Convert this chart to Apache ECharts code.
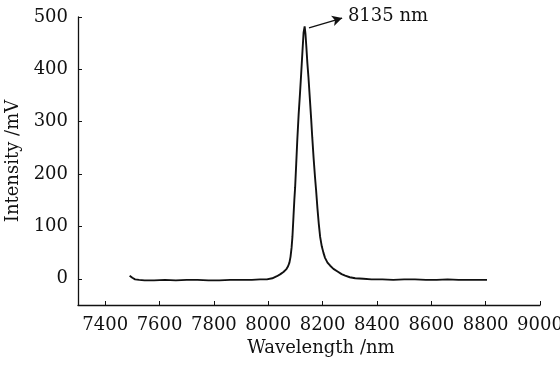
<!DOCTYPE html>
<html>
<head>
<meta charset="utf-8">
<script src="https://cdn.jsdelivr.net/npm/echarts@6/dist/echarts.min.js"></script>
<style>html,body{margin:0;padding:0;background:#fff}#c{width:560px;height:365px}</style>
</head>
<body>
<div id="c"></div>
<script>
// Data
const wavelength = [7490,7500,7510,7525,7545,7580,7620,7660,7700,7740,7780,7820,7860,7900,7940,7970,7995,8015,8032,8045,8056,8066,8073,8078,8082,8086,8089,8093,8096,8099,8103,8107,8112,8117,8121,8126,8130,8134,8137,8140,8144,8148,8153,8158,8162,8167,8172,8176,8181,8186,8191,8197,8203,8209,8218,8228,8240,8255,8270,8283,8300,8320,8350,8380,8420,8460,8500,8540,8580,8620,8660,8700,8740,8780,8805];
const intensity  = [6,2,-1,-2,-3,-3,-2,-3,-2,-2,-3,-3,-2,-2,-2,-1,-1,1,5,9,13,18,24,31,42,60,80,120,150,175,220,266,315,355,390,435,470,482,468,445,412,385,345,305,270,230,195,170,135,105,80,62,50,40,31,25,19,14,9,6,3,1,0,-1,-1,-2,-1,-1,-2,-2,-1,-2,-2,-2,-2];
const xTicks = [7400,7600,7800,8000,8200,8400,8600,8800,9000];
const yTicks = [0,100,200,300,400,500];
const peakLabel = '8135 nm';
const arrowStart = [8150, 479];
const arrowEnd = [8272, 498];

const font = 'DejaVu Serif';
const fs = 18;
const chart = echarts.init(document.getElementById('c'), null, {renderer:'canvas'});
chart.setOption({
  animation:false,
  backgroundColor:'#fff',
  grid:{left:78,right:20,top:17,bottom:60,containLabel:false,outerBoundsMode:'none'},
  xAxis:{
    type:'value', min:7300, max:9000,
    name:'Wavelength /nm', nameLocation:'middle', nameGap:34,
    nameTextStyle:{fontFamily:font,fontSize:fs,color:'#111',padding:[0,0,0,24]},
    axisLine:{show:true,onZero:false,lineStyle:{color:'#111',width:1.3}},
    axisTick:{show:true,inside:true,length:4,customValues:xTicks,lineStyle:{color:'#111'}},
    axisLabel:{customValues:xTicks,formatter:v=>String(v),fontFamily:font,fontSize:fs,color:'#111',margin:11},
    splitLine:{show:false}
  },
  yAxis:{
    type:'value', min:-50, max:500,
    name:'Intensity /mV', nameLocation:'middle', nameGap:53, nameRotate:90,
    nameTextStyle:{fontFamily:font,fontSize:fs,color:'#111'},
    axisLine:{show:true,onZero:false,lineStyle:{color:'#111',width:1.3}},
    axisTick:{show:true,inside:true,length:4,customValues:yTicks,lineStyle:{color:'#111'}},
    axisLabel:{customValues:yTicks,formatter:v=>String(v),fontFamily:font,fontSize:fs,color:'#111',margin:10},
    splitLine:{show:false}
  },
  series:[{
    type:'line',
    data:wavelength.map((w,i)=>[w,intensity[i]]),
    showSymbol:false, symbol:'none',
    lineStyle:{color:'#111',width:1.9},
    clip:false,
    markLine:{
      silent:true, animation:false,
      symbol:['none','arrow'], symbolSize:[8,10],
      lineStyle:{color:'#111',width:1.3,type:'solid'},
      label:{show:true,position:'end',formatter:peakLabel,fontFamily:font,fontSize:fs,color:'#111',distance:6,padding:[0,0,6,0]},
      data:[[{coord:arrowStart},{coord:arrowEnd}]]
    }
  }]
});
</script>
</body>
</html>
